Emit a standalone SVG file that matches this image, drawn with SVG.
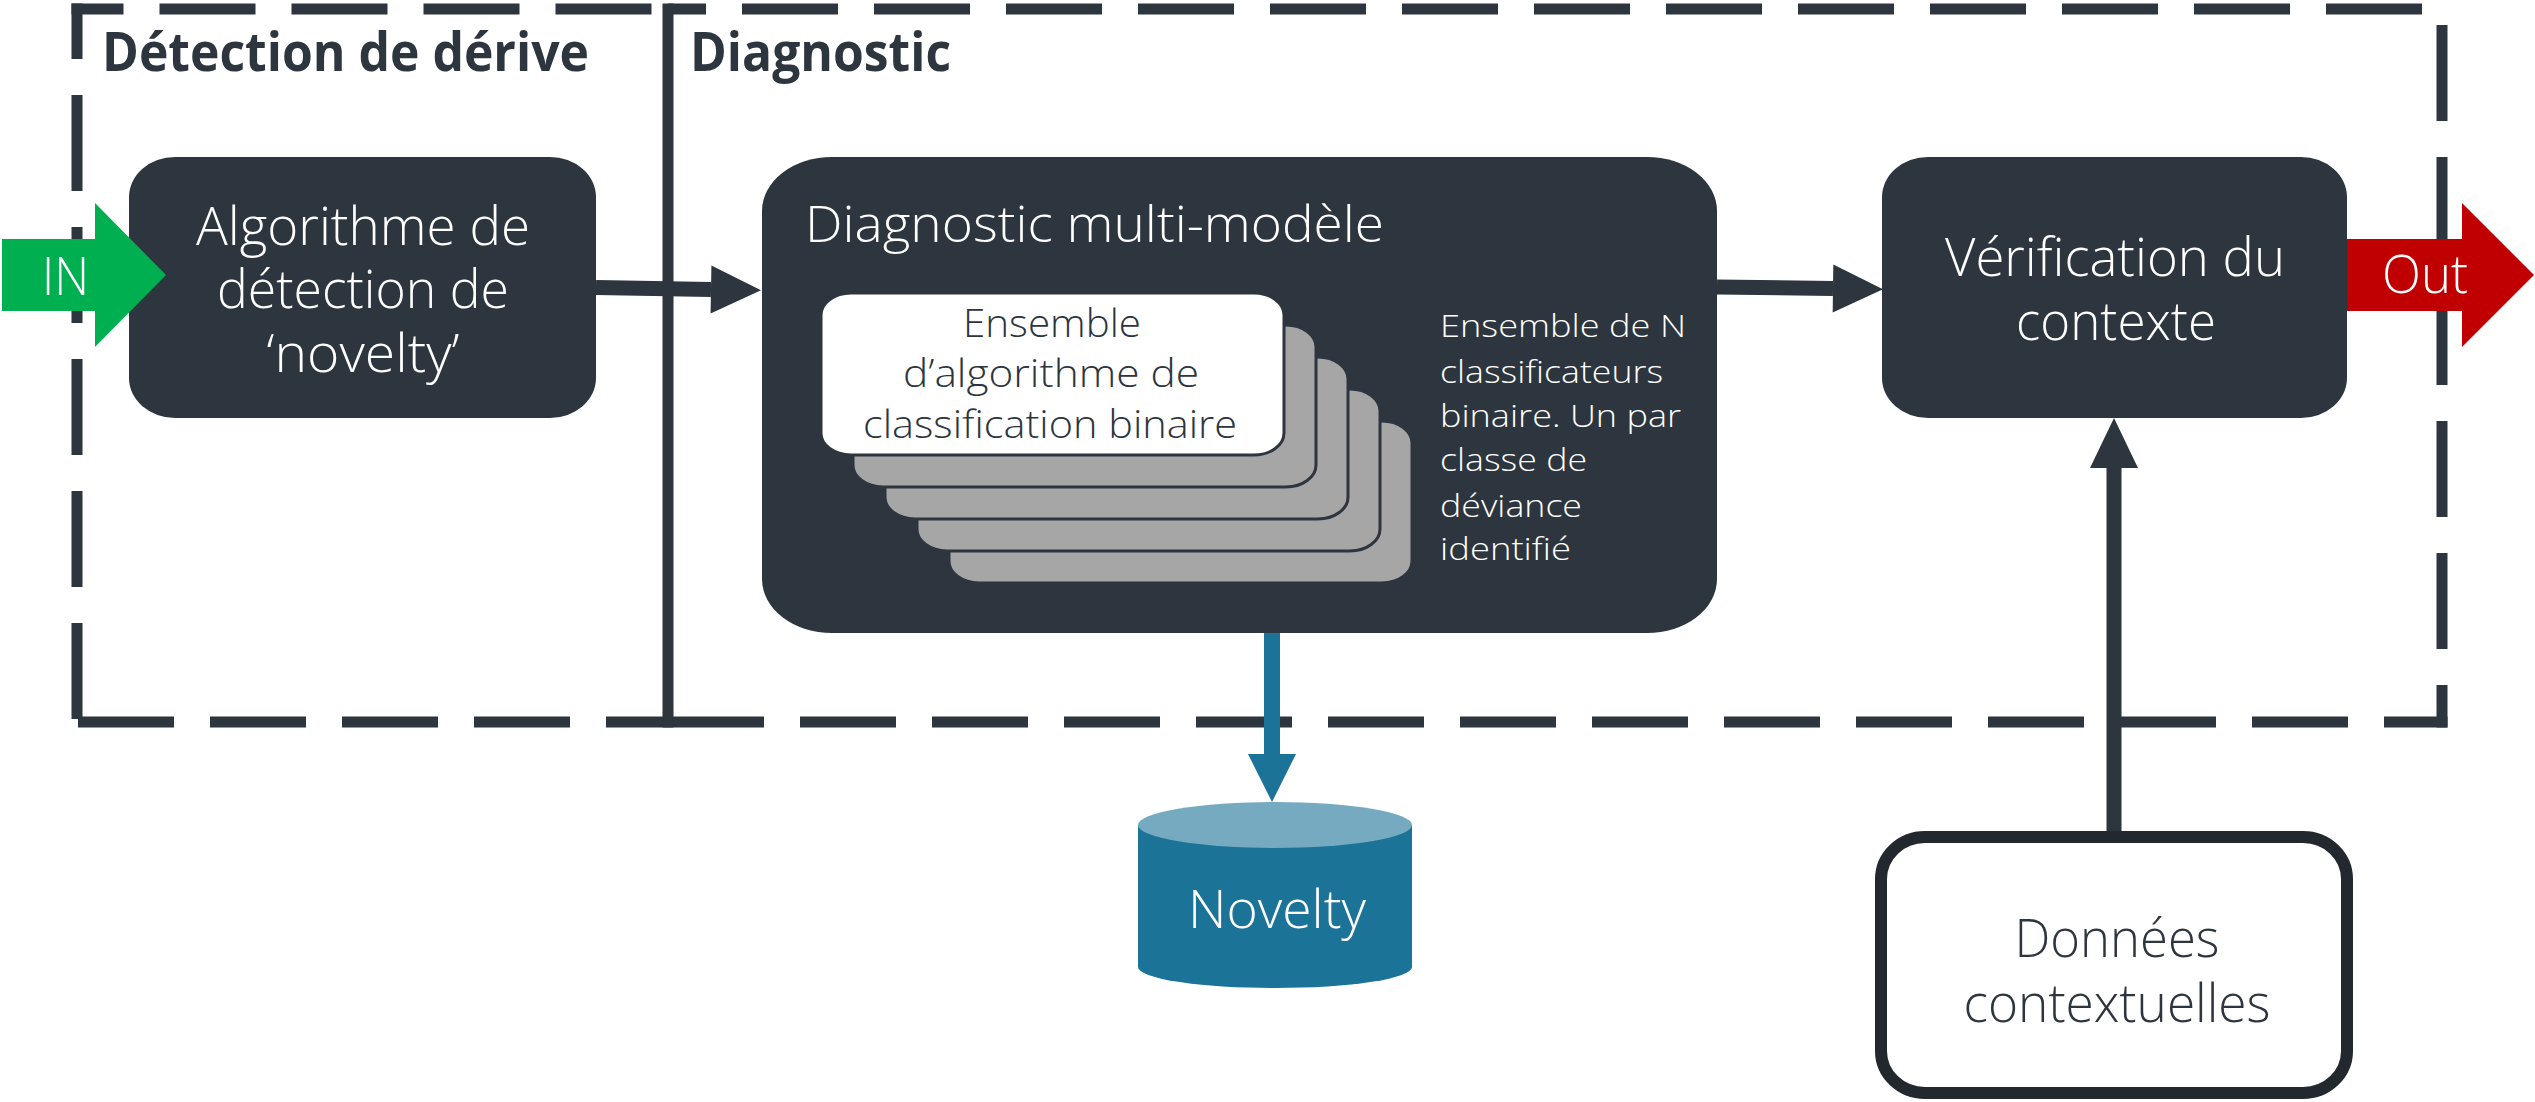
<svg xmlns="http://www.w3.org/2000/svg" width="2535" height="1102" viewBox="0 0 2535 1102">
<defs>
<style>
.bd{stroke:#2d353e;stroke-width:11;fill:none}
.dash{stroke-dasharray:96 36}
.dk{fill:#2d353e}
.t{font-family:"Open Sans","Noto Sans","Liberation Sans",sans-serif;font-weight:300}
.tb{font-family:"Open Sans","Noto Sans","Liberation Sans",sans-serif;font-weight:700;fill:#2d353e;font-size:53px}
.w{fill:#ffffff}
.d{fill:#2d353e}
.card{fill:#a6a6a6;stroke:#2d353e;stroke-width:3}
.conn{stroke:#2d353e;stroke-width:15;fill:none}
</style>
<marker id="ah" markerUnits="userSpaceOnUse" markerWidth="52" markerHeight="48" refX="0" refY="24" orient="auto" overflow="visible">
<path d="M0,0 L50,24 L0,48 Z" fill="#2d353e"/>
</marker>
<marker id="ahb" markerUnits="userSpaceOnUse" markerWidth="50" markerHeight="48" refX="0" refY="24" orient="auto" overflow="visible">
<path d="M0,0 L48,24 L0,48 Z" fill="#1b7398"/>
</marker>
</defs>
<rect width="2535" height="1102" fill="#ffffff"/>

<g id="zones">
<g id="zone-detection">
<line class="bd dash" x1="71.5" y1="9" x2="668" y2="9" stroke-dashoffset="44"/>
<line class="bd dash" x1="77" y1="3.5" x2="77" y2="727.5" stroke-dashoffset="40.5"/>
<line class="bd dash" x1="71.5" y1="722" x2="668" y2="722" stroke-dashoffset="125.5"/>
<text class="tb" x="102" y="71" textLength="487" lengthAdjust="spacingAndGlyphs">Détection de dérive</text>
</g>
<g id="zone-diagnostic">
<line class="bd dash" x1="668" y1="9" x2="2447.5" y2="9" stroke-dashoffset="58"/>
<line class="bd dash" x1="2442" y1="9" x2="2442" y2="727.5" stroke-dashoffset="116"/>
<line class="bd dash" x1="668" y1="722" x2="2447.5" y2="722" stroke-dashoffset="0"/>
<line class="bd" x1="668" y1="3.5" x2="668" y2="727.5"/>
<text class="tb" x="690" y="71" textLength="261" lengthAdjust="spacingAndGlyphs">Diagnostic</text>
</g>
</g>

<g id="node-novelty-detection">
<rect class="dk" x="129" y="157" width="467" height="261" rx="46" ry="40"/>
<g class="t w" font-size="53" text-anchor="middle">
<text x="363" y="245" textLength="334" lengthAdjust="spacingAndGlyphs">Algorithme de</text>
<text x="363" y="308" textLength="292" lengthAdjust="spacingAndGlyphs">détection de</text>
<text x="363" y="372" textLength="193" lengthAdjust="spacingAndGlyphs">‘novelty’</text>
</g>
</g>

<g id="node-multi-model">
<rect class="dk" x="762" y="157" width="955" height="476" rx="70" ry="54"/>
<text class="t w" font-size="50" x="805" y="242" textLength="579" lengthAdjust="spacingAndGlyphs">Diagnostic multi-modèle</text>
<g id="classifier-stack">
<rect class="card" x="949" y="421" width="463" height="162" rx="30" ry="22"/>
<rect class="card" x="917" y="389" width="463" height="162" rx="30" ry="22"/>
<rect class="card" x="885" y="357" width="463" height="162" rx="30" ry="22"/>
<rect class="card" x="853" y="325" width="463" height="162" rx="30" ry="22"/>
<rect x="821" y="293" width="463" height="162" rx="30" ry="22" fill="#ffffff" stroke="#2d353e" stroke-width="3"/>
<g class="t d" font-size="38" text-anchor="middle">
<text x="1052" y="337" textLength="178" lengthAdjust="spacingAndGlyphs">Ensemble</text>
<text x="1051" y="387" textLength="296" lengthAdjust="spacingAndGlyphs">d’algorithme de</text>
<text x="1050" y="438" textLength="374" lengthAdjust="spacingAndGlyphs">classification binaire</text>
</g>
</g>
<g class="t w" font-size="32">
<text x="1440" y="337" textLength="246" lengthAdjust="spacingAndGlyphs">Ensemble de N</text>
<text x="1440" y="383" textLength="223" lengthAdjust="spacingAndGlyphs">classificateurs</text>
<text x="1440" y="427" textLength="241" lengthAdjust="spacingAndGlyphs">binaire. Un par</text>
<text x="1440" y="471" textLength="147" lengthAdjust="spacingAndGlyphs">classe de</text>
<text x="1440" y="517" textLength="142" lengthAdjust="spacingAndGlyphs">déviance</text>
<text x="1440" y="560" textLength="131" lengthAdjust="spacingAndGlyphs">identifié</text>
</g>
</g>

<g id="node-context-check">
<rect class="dk" x="1882" y="157" width="465" height="261" rx="46" ry="40"/>
<g class="t w" font-size="53" text-anchor="middle">
<text x="2115" y="276" textLength="340" lengthAdjust="spacingAndGlyphs">Vérification du</text>
<text x="2116" y="340" textLength="200" lengthAdjust="spacingAndGlyphs">contexte</text>
</g>
</g>

<g id="node-novelty-db">
<path d="M1138,825 L1138,967 A137,21 0 0 0 1412,967 L1412,825 Z" fill="#1b7398"/>
<ellipse cx="1275" cy="825" rx="137" ry="23" fill="#75aac0"/>
<text class="t w" font-size="53" x="1277" y="928" text-anchor="middle" textLength="178" lengthAdjust="spacingAndGlyphs">Novelty</text>
</g>

<g id="node-context-data">
<rect x="1881" y="837" width="466" height="256" rx="44" ry="42" fill="#ffffff" stroke="#22282e" stroke-width="12"/>
<g class="t d" font-size="53" text-anchor="middle">
<text x="2117" y="957" textLength="205" lengthAdjust="spacingAndGlyphs">Données</text>
<text x="2117" y="1022" textLength="307" lengthAdjust="spacingAndGlyphs">contextuelles</text>
</g>
</g>

<g id="connectors">
<line class="conn" x1="596" y1="287.5" x2="711" y2="289.5" marker-end="url(#ah)"/>
<line class="conn" x1="1717" y1="287" x2="1833" y2="288.5" marker-end="url(#ah)"/>
<line x1="1272" y1="633" x2="1272" y2="754" stroke="#1b7398" stroke-width="16" marker-end="url(#ahb)"/>
<line class="conn" x1="2114" y1="831" x2="2114" y2="468" marker-end="url(#ah)"/>
</g>

<g id="io-in">
<path d="M2,239 L95,239 L95,203 L166,275 L95,347 L95,311 L2,311 Z" fill="#00b050"/>
<text class="t w" font-size="53" x="42" y="295" textLength="47" lengthAdjust="spacingAndGlyphs">IN</text>
</g>
<g id="io-out">
<path d="M2347,239 L2462,239 L2462,203 L2534,275 L2462,347 L2462,311 L2347,311 Z" fill="#c00000"/>
<text class="t w" font-size="53" x="2382" y="293" textLength="86" lengthAdjust="spacingAndGlyphs">Out</text>
</g>
</svg>
